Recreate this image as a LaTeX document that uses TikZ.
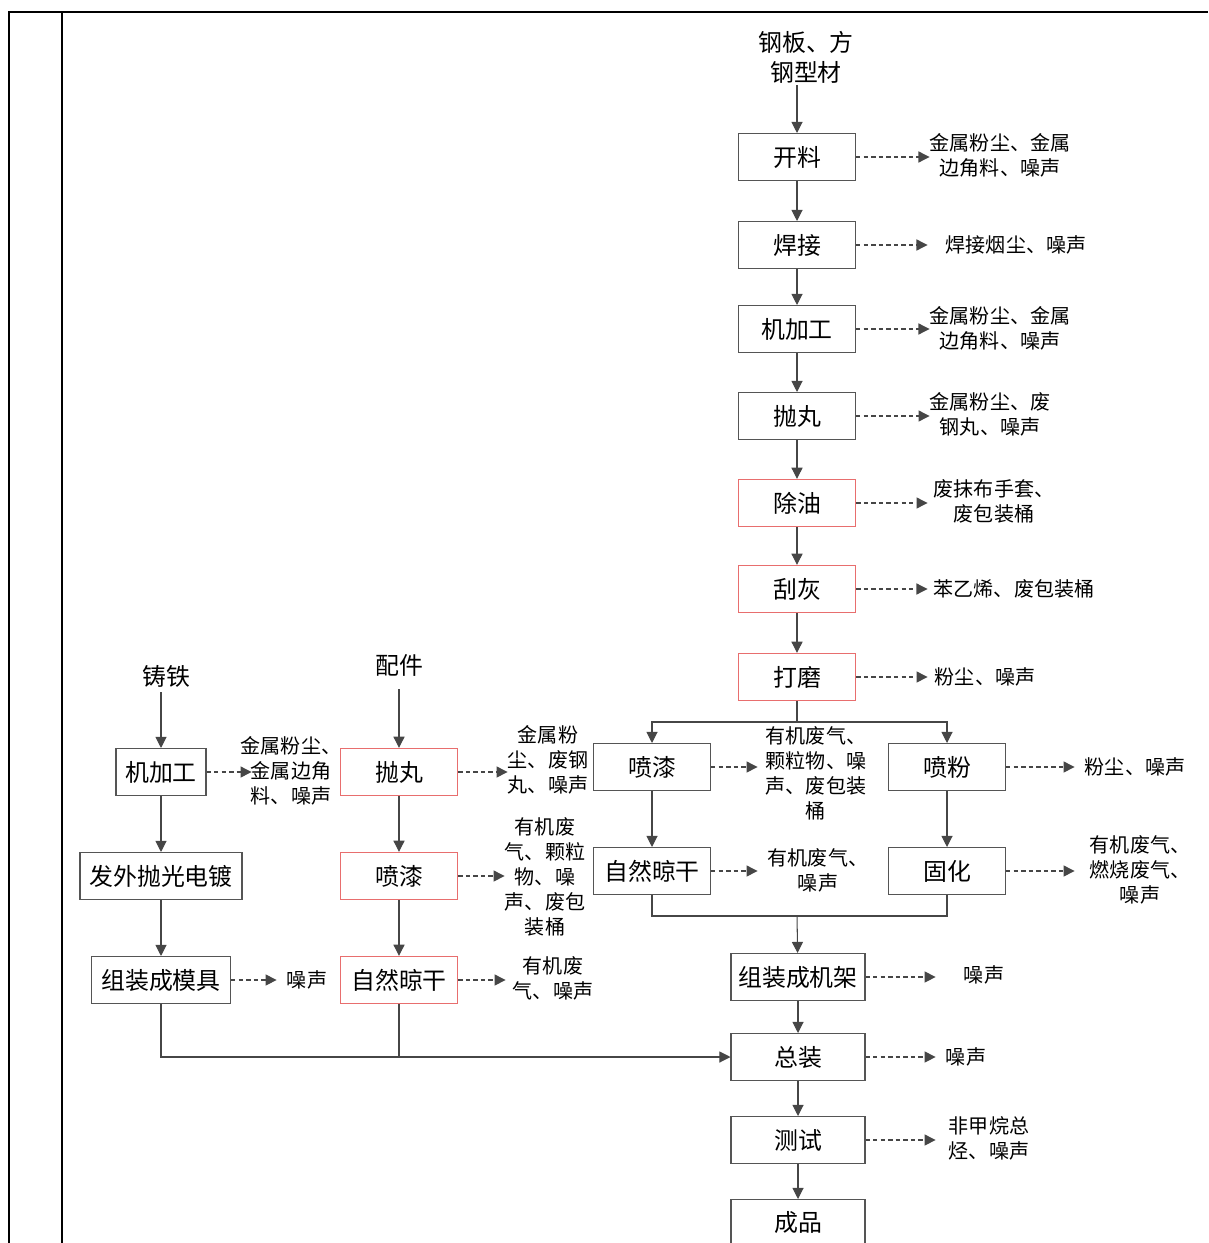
\documentclass[tikz,border=0pt]{standalone}
\usepackage{fontspec}
\setmainfont{Noto Sans CJK SC}
\usepackage{xcolor}
\usetikzlibrary{arrows.meta, calc}
\definecolor{border}{RGB}{85, 85, 85}
\definecolor{accent}{RGB}{232, 110, 110}
\definecolor{wire}{RGB}{70, 70, 70}
\tikzstyle{block} = [rectangle, draw=border, line width=0.6pt, fill=white, inner sep=0pt, minimum width=2.34cm, minimum height=0.94cm, font=\fontsize{13.6}{16}\selectfont]
\tikzstyle{redblock} = [block, draw=accent, line width=0.8pt]
\tikzstyle{note} = [inner sep=0pt, align=center, font=\fontsize{11.4}{14.2}\selectfont]
\tikzstyle{feed} = [inner sep=0pt, align=center, font=\fontsize{13.6}{17}\selectfont]
\tikzstyle{wireline} = [line width=0.6pt, draw=wire]
\tikzstyle{arrow} = [wireline, -{Triangle[length=6.3pt, width=6.3pt]}]
\tikzstyle{emit} = [arrow, dash pattern=on 2.5pt off 1.8pt]
\tikzstyle{frame} = [line width=1.1pt, draw=black]

\begin{document}
\begin{tikzpicture}[x=0.02cm, y=-0.02cm]
    \useasboundingbox (0,0) rectangle (1208,1243);
    \draw [frame] (9,1243) -- (9,12) -- (1208,12);
    \draw [frame] (62,12) -- (62,1243);

    \node (steel) [feed] at (806,57) {钢板、方\\钢型材};
    \node (kailiao) [block] at (797,157) {开料};
    \node (hanjie) [block] at (797,245) {焊接};
    \node (jjg) [block] at (797,329) {机加工};
    \node (paowan) [block] at (797,416) {抛丸};
    \node (chuyou) [redblock] at (797,503) {除油};
    \node (guahui) [redblock] at (797,589) {刮灰};
    \node (damo) [redblock] at (797,677) {打磨};
    \node (penqi) [block] at (652,767) {喷漆};
    \node (penfen) [block] at (947,767) {喷粉};
    \node (liangan) [block] at (652,871) {自然晾干};
    \node (guhua) [block] at (947,871) {固化};
    \node (zzjj) [block, minimum width=2.68cm] at (798,977) {组装成机架};
    \node (zongzhuang) [block, minimum width=2.68cm] at (798,1057) {总装};
    \node (ceshi) [block, minimum width=2.68cm] at (798,1140) {测试};
    \node (chengpin) [block, minimum width=2.68cm] at (798,1223) {成品};

    \node (iron) [feed] at (166,676) {铸铁};
    \node (ljjg) [block, minimum width=1.8cm] at (161,772) {机加工};
    \node (waifa) [block, minimum width=3.24cm] at (161,876) {发外抛光电镀};
    \node (zzmj) [block, minimum width=2.78cm] at (161,980) {组装成模具};
    \node (parts) [feed] at (399,665) {配件};
    \node (lpaowan) [redblock] at (399,772) {抛丸};
    \node (lpenqi) [redblock] at (399,876) {喷漆};
    \node (lliangan) [redblock] at (399,980) {自然晾干};

    \node (kailiao-o) [note] at (1000,155) {金属粉尘、金属\\边角料、噪声};
    \node (hanjie-o) [note] at (1016,245) {焊接烟尘、噪声};
    \node (jjg-o) [note] at (1000,328) {金属粉尘、金属\\边角料、噪声};
    \node (paowan-o) [note] at (990,414) {金属粉尘、废\\钢丸、噪声};
    \node (chuyou-o) [note] at (994,501) {废抹布手套、\\废包装桶};
    \node (guahui-o) [note] at (1014,589) {苯乙烯、废包装桶};
    \node (damo-o) [note] at (985,677) {粉尘、噪声};
    \node (penqi-o) [note] at (816,773) {有机废气、\\颗粒物、噪\\声、废包装\\桶};
    \node (penfen-o) [note] at (1135,767) {粉尘、噪声};
    \node (liangan-o) [note] at (818,870) {有机废气、\\噪声};
    \node (guhua-o) [note] at (1140,870) {有机废气、\\燃烧废气、\\噪声};
    \node (zzjj-o) [note] at (984,975) {噪声};
    \node (zongzhuang-o) [note] at (966,1057) {噪声};
    \node (ceshi-o) [note] at (989,1138) {非甲烷总\\烃、噪声};
    \node (ljjg-o) [note] at (291,771) {金属粉尘、\\金属边角\\料、噪声};
    \node (lpaowan-o) [note] at (548,760) {金属粉\\尘、废钢\\丸、噪声};
    \node (lpenqi-o) [note] at (545,877) {有机废\\气、颗粒\\物、噪\\声、废包\\装桶};
    \node (lliangan-o) [note] at (553,978) {有机废\\气、噪声};
    \node (zzmj-o) [note] at (307,980) {噪声};

    \coordinate (split) at (797,722);
    \coordinate (merge) at (797,916);
    \coordinate (join) at (399,1057);

    \draw [arrow, shorten <=0.04cm] (steel.south -| kailiao.north) -- (kailiao);
    \draw [arrow] (kailiao) -- (hanjie);
    \draw [arrow] (hanjie) -- (jjg);
    \draw [arrow] (jjg) -- (paowan);
    \draw [arrow] (paowan) -- (chuyou);
    \draw [arrow] (chuyou) -- (guahui);
    \draw [arrow] (guahui) -- (damo);
    \draw [wireline] (damo) -- (split);
    \draw [arrow] (split) -| (penqi);
    \draw [arrow] (split) -| (penfen);
    \draw [arrow] (penqi) -- (liangan);
    \draw [arrow] (penfen) -- (guhua);
    \draw [wireline] (liangan) |- (merge);
    \draw [wireline] (guhua) |- (merge);
    \draw [arrow] (merge) -- (zzjj);
    \draw [arrow] (zzjj) -- (zongzhuang);
    \draw [arrow] (zongzhuang) -- (ceshi);
    \draw [arrow] (ceshi) -- (chengpin);

    \draw [arrow, shorten <=0.1cm] (iron.south -| ljjg.north) -- (ljjg);
    \draw [arrow] (ljjg) -- (waifa);
    \draw [arrow] (waifa) -- (zzmj);
    \draw [arrow, shorten <=0.26cm] (parts.south -| lpaowan.north) -- (lpaowan);
    \draw [arrow] (lpaowan) -- (lpenqi);
    \draw [arrow] (lpenqi) -- (lliangan);
    \draw [wireline] (zzmj) |- (join);
    \draw [arrow] (lliangan) |- (zongzhuang);

    \draw [emit] (kailiao) -- (kailiao.east -| kailiao-o.west);
    \draw [emit, shorten >=0.36cm] (hanjie) -- (hanjie.east -| hanjie-o.west);
    \draw [emit] (jjg) -- (jjg.east -| jjg-o.west);
    \draw [emit] (paowan) -- (paowan.east -| paowan-o.west);
    \draw [emit, shorten >=0.12cm] (chuyou) -- (chuyou.east -| chuyou-o.west);
    \draw [emit, shorten >=0.12cm] (guahui) -- (guahui.east -| guahui-o.west);
    \draw [emit, shorten >=0.14cm] (damo) -- (damo.east -| damo-o.west);
    \draw [emit, shorten >=0.16cm] (penqi) -- (penqi.east -| penqi-o.west);
    \draw [emit, shorten >=0.2cm] (penfen) -- (penfen.east -| penfen-o.west);
    \draw [emit, shorten >=0.2cm] (liangan) -- (liangan.east -| liangan-o.west);
    \draw [emit, shorten >=0.3cm] (guhua) -- (guhua.east -| guhua-o.west);
    \draw [emit, shorten >=0.56cm] (zzjj) -- (zzjj.east -| zzjj-o.west);
    \draw [emit, shorten >=0.2cm] (zongzhuang) -- (zongzhuang.east -| zongzhuang-o.west);
    \draw [emit, shorten >=0.26cm] (ceshi) -- (ceshi.east -| ceshi-o.west);
    \draw [emit, shorten >=-0.22cm] (ljjg) -- (ljjg.east -| ljjg-o.west);
    \draw [emit] (lpaowan) -- (lpaowan.east -| lpaowan-o.west);
    \draw [emit] (lpenqi) -- (lpenqi.east -| lpenqi-o.west);
    \draw [emit, shorten >=0.14cm] (lliangan) -- (lliangan.east -| lliangan-o.west);
    \draw [emit, shorten >=0.2cm] (zzmj) -- (zzmj.east -| zzmj-o.west);
\end{tikzpicture}
\end{document}
